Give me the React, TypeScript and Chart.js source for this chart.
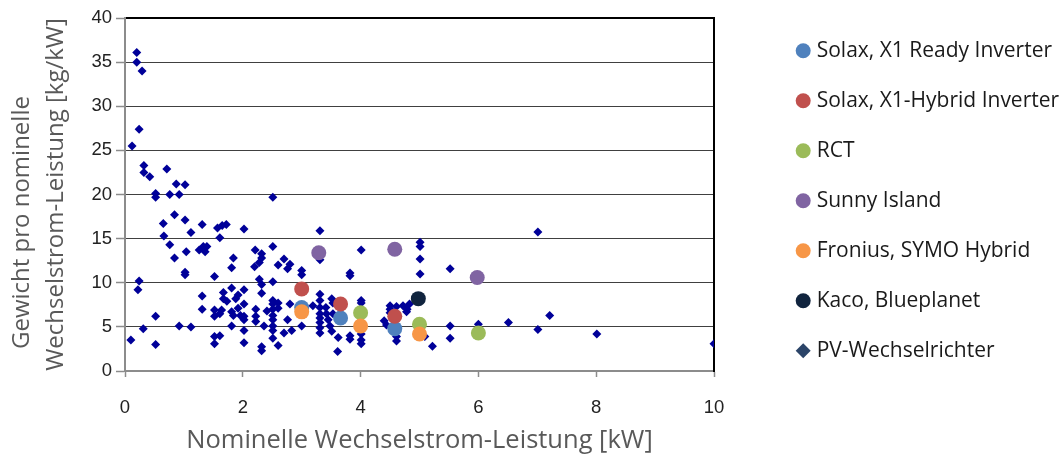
import React, { useEffect, useRef } from 'react';
import { Chart, registerables } from 'chart.js';

Chart.register(...registerables);

// ---------------- data ----------------
const X_TICK_VALUES = [0, 2, 4, 6, 8, 10];
const Y_TICK_VALUES = [0, 5, 10, 15, 20, 25, 30, 35, 40];

const X_TITLE = 'Nominelle Wechselstrom-Leistung [kW]';
const Y_TITLE_LINE1 = 'Gewicht pro nominelle';
const Y_TITLE_LINE2 = 'Wechselstrom-Leistung [kg/kW]';

const SERIES_LABELS = [
  'Solax, X1 Ready Inverter',
  'Solax, X1-Hybrid Inverter',
  'RCT',
  'Sunny Island',
  'Fronius, SYMO Hybrid',
  'Kaco, Blueplanet',
  'PV-Wechselrichter',
];

const solaxReadyX = [3.0, 3.66, 4.58];
const solaxReadyY = [7.2, 6.0, 4.8];

const solaxHybridX = [3.0, 3.66, 4.58];
const solaxHybridY = [9.3, 7.6, 6.2];

const rctX = [4.0, 5.0, 6.0];
const rctY = [6.6, 5.3, 4.3];

const sunnyIslandX = [3.29, 4.58, 5.98];
const sunnyIslandY = [13.4, 13.8, 10.6];

const froniusX = [3.0, 4.0, 5.0];
const froniusY = [6.7, 5.1, 4.2];

const kacoX = [4.98];
const kacoY = [8.2];

const pvX = [
  0.2, 0.2, 0.29, 0.24, 0.12, 0.32, 0.32, 0.42, 0.71, 0.87, 1.02,
  0.52, 0.52, 0.76, 0.92, 2.51, 0.84, 1.02, 0.65, 0.66, 1.12, 1.31, 1.57, 1.65, 1.72, 1.61, 2.02,
  0.76, 0.84, 1.04, 1.26, 1.33, 1.39, 1.36, 1.02, 1.02,
  2.21, 2.32, 2.32, 2.28, 2.51, 1.84, 1.81, 2.2, 2.6, 2.7, 2.8, 2.76, 3.0, 3.0,
  1.52, 2.28, 2.32, 2.32, 2.51, 0.24, 0.22, 1.81, 1.67, 1.67, 1.92, 1.88, 2.02,
  1.31, 1.31, 1.52, 1.52, 1.64, 1.61, 1.73, 1.81, 1.84, 1.81, 1.92, 1.96,
  2.02, 2.02, 2.02, 2.02, 2.22, 2.22, 2.22, 2.36, 2.41,
  2.51, 2.51, 2.51, 2.51, 2.51, 2.51, 2.51, 2.51, 2.6, 2.6, 2.76, 2.8, 2.7, 2.83, 3.0,
  2.6, 2.32, 2.32, 1.52, 1.52, 1.61, 2.02, 0.92, 1.12, 0.52, 0.31, 0.1, 0.52,
  3.31, 3.31, 4.01, 5.01, 5.01, 5.01, 5.01, 5.52, 3.82, 3.82,
  3.31, 3.31, 3.51, 3.19, 3.31, 3.31, 3.31, 3.31, 3.31, 3.31,
  3.41, 3.42, 3.45, 3.48, 3.51, 3.53, 3.53, 3.62, 3.61, 3.82, 3.82,
  4.01, 4.01, 4.01, 4.01, 4.01, 4.4, 4.44, 4.5, 4.5, 4.5, 4.61, 4.72, 4.79, 4.83, 4.78,
  4.61, 4.61, 5.09, 5.22, 5.52, 5.52, 6.0,
  7.01, 6.51, 7.01, 7.21, 8.01, 10.0,
];
const pvY = [
  36.1, 35.0, 34.0, 27.4, 25.5, 23.3, 22.5, 22.0, 22.9, 21.2, 21.1,
  20.1, 19.7, 20.0, 20.0, 19.7, 17.7, 17.1, 16.7, 15.3, 15.7, 16.6, 16.2, 16.5, 16.6, 15.1, 16.1,
  14.3, 12.8, 13.5, 13.7, 14.1, 14.1, 13.5, 11.2, 10.9,
  13.7, 13.3, 12.8, 12.3, 14.1, 12.8, 11.7, 11.8, 12.0, 12.7, 12.1, 11.6, 11.4, 10.9,
  10.7, 10.4, 9.8, 8.8, 10.1, 10.2, 9.2, 9.4, 8.9, 8.2, 8.6, 8.2, 9.2,
  8.5, 7.0, 6.9, 6.2, 6.9, 6.5, 7.9, 6.7, 6.3, 5.1, 7.1, 6.3,
  7.6, 6.2, 5.8, 4.6, 7.0, 6.2, 5.6, 5.1, 6.8,
  8.0, 7.6, 7.0, 6.3, 5.8, 5.1, 4.6, 3.7, 7.7, 7.1, 5.8, 7.6, 4.3, 4.6, 5.1,
  2.9, 2.75, 2.3, 3.9, 3.1, 4.0, 3.2, 5.1, 5.0, 6.2, 4.8, 3.5, 3.0,
  15.9, 12.6, 13.7, 14.6, 14.1, 12.7, 11.0, 11.6, 11.1, 10.8,
  8.7, 8.0, 8.2, 7.4, 7.2, 6.5, 6.0, 5.5, 4.9, 4.3,
  7.2, 6.5, 5.8, 5.1, 4.5, 7.7, 6.5, 3.8, 2.2, 4.0, 3.6,
  8.0, 7.7, 4.2, 3.5, 3.1, 5.7, 5.2, 7.4, 7.0, 6.6, 7.3, 7.4, 7.0, 7.6, 6.7,
  3.9, 3.4, 3.9, 2.8, 5.1, 3.7, 5.3,
  15.75, 5.5, 4.7, 6.3, 4.2, 3.1,
];

// ---------------- styling ----------------
const FONT_TEXT = "'Open Sans', 'Noto Sans', sans-serif";
const FONT_NUM = "'Liberation Sans', Arial, sans-serif";

const COLORS = ['#4F81BD', '#C0504D', '#9BBB59', '#8064A2', '#F79646', '#10243E', '#000099'];
const PV_LEGEND_COLOR = '#2B4468';

const W = 1062;
const H = 457;

const toPoints = (xs: number[], ys: number[]) => xs.map((x, i) => ({ x, y: ys[i] }));

function circleSet(idx: number, xs: number[], ys: number[]) {
  return {
    label: SERIES_LABELS[idx],
    data: toPoints(xs, ys),
    pointStyle: 'circle',
    pointRadius: 7.5,
    pointHoverRadius: 7.5,
    pointBackgroundColor: COLORS[idx],
    pointBorderWidth: 0,
    backgroundColor: COLORS[idx],
    borderColor: COLORS[idx],
    borderWidth: 0,
    showLine: false,
    order: 10 - idx,
  };
}

export default function App() {
  const ref = useRef<HTMLCanvasElement>(null);

  useEffect(() => {
    if (!ref.current) return;

    const legendWidthPlugin = {
      id: 'legendWidth',
      beforeInit(chart: any) {
        const legend = chart.legend;
        if (!legend) return;
        const orig = legend.fit;
        legend.fit = function () {
          orig.call(this);
          this.width = 290.8;
        };
      },
    };

    const chart = new Chart(ref.current, {
      type: 'scatter',
      data: {
        datasets: [
          circleSet(0, solaxReadyX, solaxReadyY),
          circleSet(1, solaxHybridX, solaxHybridY),
          circleSet(2, rctX, rctY),
          circleSet(3, sunnyIslandX, sunnyIslandY),
          circleSet(4, froniusX, froniusY),
          circleSet(5, kacoX, kacoY),
          {
            label: SERIES_LABELS[6],
            data: toPoints(pvX, pvY),
            pointStyle: 'rectRot',
            pointRadius: 4.5,
            pointHoverRadius: 4.5,
            pointBackgroundColor: COLORS[6],
            pointBorderWidth: 0,
            backgroundColor: COLORS[6],
            borderColor: COLORS[6],
            borderWidth: 0,
            showLine: false,
            order: 100,
          },
        ] as any,
      },
      options: {
        responsive: false,
        animation: false,
        events: [],
        layout: { padding: { top: 11.2, left: 0, right: 0, bottom: 0 } },
        scales: {
          x: {
            type: 'linear',
            position: 'bottom',
            min: 0,
            max: 10,
            afterBuildTicks: (s: any) => {
              s.ticks = X_TICK_VALUES.map((v) => ({ value: v }));
            },
            afterFit: (s: any) => {
              s.height = 86;
            },
            ticks: {
              font: { family: FONT_NUM, size: 18.5 },
              color: '#222222',
              padding: 20,
              maxRotation: 0,
            },
            grid: {
              drawOnChartArea: false,
              drawTicks: true,
              tickLength: 6,
              tickColor: '#8c8c8c',
              tickWidth: 1.5,
            },
            border: { color: '#8c8c8c', width: 2 },
            title: {
              display: true,
              text: X_TITLE,
              font: { family: FONT_TEXT, size: 25.5, lineHeight: '23px' as any },
              color: '#595959',
              padding: { top: 0, bottom: 5 },
            },
          },
          x2: {
            type: 'linear',
            position: 'top',
            min: 0,
            max: 10,
            afterFit: (s: any) => {
              s.height = 6.8;
            },
            ticks: { display: false },
            grid: { drawOnChartArea: false, drawTicks: false },
            border: { color: '#000000', width: 2 },
          },
          y: {
            type: 'linear',
            position: 'left',
            min: 0,
            max: 40,
            afterBuildTicks: (s: any) => {
              s.ticks = Y_TICK_VALUES.map((v) => ({ value: v }));
            },
            afterFit: (s: any) => {
              s.width = 125;
            },
            ticks: {
              font: { family: FONT_NUM, size: 18.5 },
              color: '#222222',
              padding: 4,
            },
            grid: {
              color: (c: any) =>
                c.tick && (c.tick.value === 0 || c.tick.value === 40) ? 'rgba(0,0,0,0)' : '#404040',
              lineWidth: 1,
              tickLength: 9,
              tickColor: '#8c8c8c',
              tickWidth: 1.5,
            },
            border: { color: '#8c8c8c', width: 2 },
            title: {
              display: true,
              text: [Y_TITLE_LINE1 + '\u00A0'.repeat(9), Y_TITLE_LINE2],
              font: { family: FONT_TEXT, size: 24, lineHeight: '34px' as any },
              color: '#595959',
              padding: { top: 5.5, bottom: 0 },
            },
          },
          y2: {
            type: 'linear',
            position: 'right',
            min: 0,
            max: 40,
            afterFit: (s: any) => {
              s.width = 57.2;
            },
            ticks: { display: false },
            grid: { drawOnChartArea: false, drawTicks: false },
            border: { color: '#000000', width: 2 },
          },
        },
        plugins: {
          tooltip: { enabled: false },
          title: { display: false },
          legend: {
            display: true,
            position: 'right',
            align: 'start',
            labels: {
              usePointStyle: true,
              boxWidth: 6,
              boxHeight: 10.6,
              padding: 29,
              color: '#1a1a1a',
              font: { family: FONT_TEXT, size: 21 },
              sort: (a: any, b: any) => a.datasetIndex - b.datasetIndex,
              generateLabels: (c: any) => {
                const items = (Chart.defaults.plugins.legend.labels as any).generateLabels(c);
                items.forEach((it: any) => {
                  it.lineWidth = 0;
                  if (it.datasetIndex === 6) {
                    it.fillStyle = PV_LEGEND_COLOR;
                    it.strokeStyle = PV_LEGEND_COLOR;
                  }
                });
                return items;
              },
            },
          },
        },
      } as any,
      plugins: [legendWidthPlugin as any],
    });

    return () => chart.destroy();
  }, []);

  return (
    <div style={{ position: 'fixed', left: 0, top: 0, width: W, height: H, background: '#ffffff' }}>
      <canvas ref={ref} width={W} height={H} style={{ display: 'block', width: W, height: H }} />
    </div>
  );
}
